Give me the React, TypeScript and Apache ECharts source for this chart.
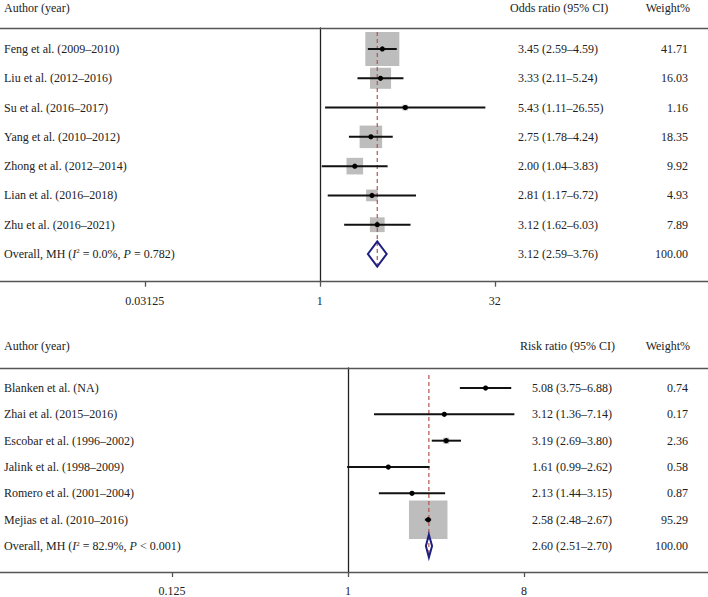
import React, { useEffect, useRef } from "react";
import * as echarts from "echarts";

// ---------- Data: panel A (odds ratio) ----------
const studiesA = [
  "Feng et al. (2009–2010)",
  "Liu et al. (2012–2016)",
  "Su et al. (2016–2017)",
  "Yang et al. (2010–2012)",
  "Zhong et al. (2012–2014)",
  "Lian et al. (2016–2018)",
  "Zhu et al. (2016–2021)",
];
const estA = [3.45, 3.33, 5.43, 2.75, 2.0, 2.81, 3.12];
const loA = [2.59, 2.11, 1.11, 1.78, 1.04, 1.17, 1.62];
const hiA = [4.59, 5.24, 26.55, 4.24, 3.83, 6.72, 6.03];
const weightA = [41.71, 16.03, 1.16, 18.35, 9.92, 4.93, 7.89];
const overallA = { est: 3.12, lo: 2.59, hi: 3.76, weight: 100.0 };
const overallLabelA = "Overall, MH ({i|I}{s|2} = 0.0%, {i|P} = 0.782)";
const ticksA = [0.03125, 1, 32];

// ---------- Data: panel B (risk ratio) ----------
const studiesB = [
  "Blanken et al. (NA)",
  "Zhai et al. (2015–2016)",
  "Escobar et al. (1996–2002)",
  "Jalink et al. (1998–2009)",
  "Romero et al. (2001–2004)",
  "Mejias et al. (2010–2016)",
];
const estB = [5.08, 3.12, 3.19, 1.61, 2.13, 2.58];
const loB = [3.75, 1.36, 2.69, 0.99, 1.44, 2.48];
const hiB = [6.88, 7.14, 3.8, 2.62, 3.15, 2.67];
const weightB = [0.74, 0.17, 2.36, 0.58, 0.87, 95.29];
const overallB = { est: 2.6, lo: 2.51, hi: 2.7, weight: 100.0 };
const overallLabelB = "Overall, MH ({i|I}{s|2} = 82.9%, {i|P} < 0.001)";
const ticksB = [0.125, 1, 8];

const FONT_FAMILY = '"Liberation Serif", "Times New Roman", serif';
const FONT = `12px ${FONT_FAMILY}`;
const TEXT_COLOR = "#222";

type Panel = {
  labels: string[];
  est: number[];
  lo: number[];
  hi: number[];
  w: number[];
  overall: { est: number; lo: number; hi: number; weight: number };
  overallLabel: string;
  ticks: number[];
  // layout
  xMin: number;
  xMax: number;
  yMin: number;
  yMax: number;
  top: number;
  height: number;
  boxMax: number;
  ciX: number;
  dashFrom: number;
  dashTo: number;
  diamondH: number;
};

const panels: Panel[] = [
  {
    labels: studiesA,
    est: estA,
    lo: loA,
    hi: hiA,
    w: weightA,
    overall: overallA,
    overallLabel: overallLabelA,
    ticks: ticksA,
    xMin: -319.8 / 35,
    xMax: (708 - 319.8) / 35,
    yMin: -0.717,
    yMax: 7.946,
    top: 28,
    height: 253.7,
    boxMax: 34,
    ciX: 518,
    dashFrom: -0.58,
    dashTo: 7.43,
    diamondH: 12.5,
  },
  {
    labels: studiesB,
    est: estB,
    lo: loB,
    hi: hiB,
    w: weightB,
    overall: overallB,
    overallLabel: overallLabelB,
    ticks: ticksB,
    xMin: -348 / 58.67,
    xMax: (708 - 348) / 58.67,
    yMin: -0.76,
    yMax: 6.987,
    top: 368,
    height: 204,
    boxMax: 38.5,
    ciX: 532,
    dashFrom: -0.49,
    dashTo: 6.46,
    diamondH: 11.5,
  },
];

const fmt = (v: number) => v.toFixed(2);

function buildOption() {
  const grid: any[] = [];
  const xAxis: any[] = [];
  const yAxis: any[] = [];
  const series: any[] = [];

  panels.forEach((p, pi) => {
    grid.push({
      left: 0,
      right: 0,
      top: p.top,
      height: p.height,
      outerBoundsMode: "none",
      containLabel: false,
    });
    const tickLogs = p.ticks.map((t) => Math.log2(t));
    // bottom axis (with ticks / labels)
    xAxis.push({
      gridIndex: pi,
      type: "value",
      position: "bottom",
      min: p.xMin,
      max: p.xMax,
      axisLine: { show: true, onZero: false, lineStyle: { color: "#555", width: 1.3 } },
      axisTick: {
        show: true,
        customValues: tickLogs,
        length: 5,
        inside: false,
        lineStyle: { color: "#555", width: 1.3 },
      },
      axisLabel: {
        show: true,
        customValues: tickLogs,
        formatter: (v: number) => String(Math.round(Math.pow(2, v) * 100000) / 100000),
        fontFamily: FONT_FAMILY,
        fontSize: 12,
        color: TEXT_COLOR,
        margin: 13,
        showMinLabel: true,
        showMaxLabel: true,
      },
      splitLine: { show: false },
    });
    // top rule
    xAxis.push({
      gridIndex: pi,
      type: "value",
      position: "top",
      min: p.xMin,
      max: p.xMax,
      axisLine: { show: true, onZero: false, lineStyle: { color: "#555", width: 1.3 } },
      axisTick: { show: false },
      axisLabel: { show: false },
      splitLine: { show: false },
    });
    yAxis.push({
      gridIndex: pi,
      type: "value",
      inverse: true,
      min: p.yMin,
      max: p.yMax,
      axisLine: { show: true, onZero: true, lineStyle: { color: "#222", width: 1.3 } },
      axisTick: { show: false },
      axisLabel: { show: false },
      splitLine: { show: false },
    });

    const n = p.labels.length;
    const wMax = Math.max(...p.w);
    const rows: number[][] = [];
    for (let i = 0; i < n; i++) {
      rows.push([i, Math.log2(p.est[i]), Math.log2(p.lo[i]), Math.log2(p.hi[i]), p.w[i], 0]);
    }
    rows.push([
      n,
      Math.log2(p.overall.est),
      Math.log2(p.overall.lo),
      Math.log2(p.overall.hi),
      p.overall.weight,
      1,
    ]);
    const xIdx = pi * 2;

    // boxes (drawn below the dashed line)
    series.push({
      type: "custom",
      xAxisIndex: xIdx,
      yAxisIndex: pi,
      z: 1,
      data: rows,
      renderItem: (params: any, api: any) => {
        if (api.value(5) === 1) return { type: "group", children: [] };
        const [xe, y] = api.coord([api.value(1), api.value(0)]);
        const size = p.boxMax * Math.sqrt(api.value(4) / wMax);
        return {
          type: "rect",
          shape: { x: xe - size / 2, y: y - size / 2, width: size, height: size },
          style: { fill: "#bdbdbd" },
        };
      },
    });

    // dashed overall reference line
    series.push({
      type: "line",
      xAxisIndex: xIdx,
      yAxisIndex: pi,
      z: 2,
      symbol: "none",
      silent: true,
      data: [
        [Math.log2(p.overall.est), p.dashFrom],
        [Math.log2(p.overall.est), p.dashTo],
      ],
      lineStyle: { color: "#b5524e", width: 1.2, type: [4, 3] },
    });

    // CI lines, points, diamond and text columns
    series.push({
      type: "custom",
      xAxisIndex: xIdx,
      yAxisIndex: pi,
      z: 3,
      data: rows,
      renderItem: (params: any, api: any) => {
        const i = params.dataIndex;
        const isOverall = api.value(5) === 1;
        const [xe, y] = api.coord([api.value(1), api.value(0)]);
        const xl = api.coord([api.value(2), api.value(0)])[0];
        const xh = api.coord([api.value(3), api.value(0)])[0];
        const children: any[] = [];
        if (isOverall) {
          const h = p.diamondH;
          children.push({
            type: "polygon",
            shape: {
              points: [
                [xl, y],
                [xe, y - h],
                [xh, y],
                [xe, y + h],
              ],
            },
            style: { fill: "none", stroke: "#1f1f80", lineWidth: 2 },
          });
          children.push({
            type: "text",
            x: 4,
            y: y,
            style: {
              text: p.overallLabel,
              font: FONT,
              fill: TEXT_COLOR,
              textAlign: "left",
              align: "left",
              textVerticalAlign: "middle",
              verticalAlign: "middle",
              rich: {
                i: { fontStyle: "italic", fontSize: 12, fontFamily: FONT_FAMILY, fill: TEXT_COLOR },
                s: {
                  fontSize: 7,
                  fontFamily: FONT_FAMILY,
                  fill: TEXT_COLOR,
                  verticalAlign: "top",
                },
              },
            },
          });
        } else {
          children.push({
            type: "line",
            shape: { x1: xl, y1: y, x2: xh, y2: y },
            style: { stroke: "#111", lineWidth: 2 },
          });
          children.push({
            type: "circle",
            shape: { cx: xe, cy: y, r: 2.6 },
            style: { fill: "#000" },
          });
          children.push({
            type: "text",
            x: 4,
            y: y,
            style: {
              text: p.labels[i],
              font: FONT,
              fill: TEXT_COLOR,
              textAlign: "left",
              align: "left",
              textVerticalAlign: "middle",
              verticalAlign: "middle",
            },
          });
        }
        const est = isOverall ? p.overall.est : p.est[i];
        const lo = isOverall ? p.overall.lo : p.lo[i];
        const hi = isOverall ? p.overall.hi : p.hi[i];
        const w = isOverall ? p.overall.weight : p.w[i];
        children.push({
          type: "text",
          x: p.ciX,
          y: y,
          style: {
            text: `${fmt(est)} (${fmt(lo)}–${fmt(hi)})`,
            font: FONT,
            fill: TEXT_COLOR,
            textAlign: "left",
            align: "left",
            textVerticalAlign: "middle",
            verticalAlign: "middle",
          },
        });
        children.push({
          type: "text",
          x: 688,
          y: y,
          style: {
            text: fmt(w),
            font: FONT,
            fill: TEXT_COLOR,
            textAlign: "right",
            align: "right",
            textVerticalAlign: "middle",
            verticalAlign: "middle",
          },
        });
        return { type: "group", children };
      },
    });
  });

  const header = (text: string, x: number, y: number, align: string) => ({
    type: "text",
    x,
    y,
    style: {
      text,
      font: FONT,
      fill: TEXT_COLOR,
      textAlign: align,
      align,
      textVerticalAlign: "middle",
      verticalAlign: "middle",
    },
  });

  return {
    animation: false,
    backgroundColor: "#fff",
    grid,
    xAxis,
    yAxis,
    series,
    graphic: [
      header("Author (year)", 4, 8, "left"),
      header("Odds ratio (95% CI)", 510, 8, "left"),
      header("Weight%", 690, 8, "right"),
      header("Author (year)", 4, 346, "left"),
      header("Risk ratio (95% CI)", 520, 346, "left"),
      header("Weight%", 690, 346, "right"),
    ],
  };
}

export default function App() {
  const ref = useRef<HTMLDivElement>(null);
  useEffect(() => {
    document.body.style.margin = "0";
    if (!ref.current) return;
    const chart = echarts.init(ref.current, null, { renderer: "svg" });
    chart.setOption(buildOption() as any);
    return () => chart.dispose();
  }, []);
  return <div ref={ref} style={{ width: 708, height: 597 }} />;
}
